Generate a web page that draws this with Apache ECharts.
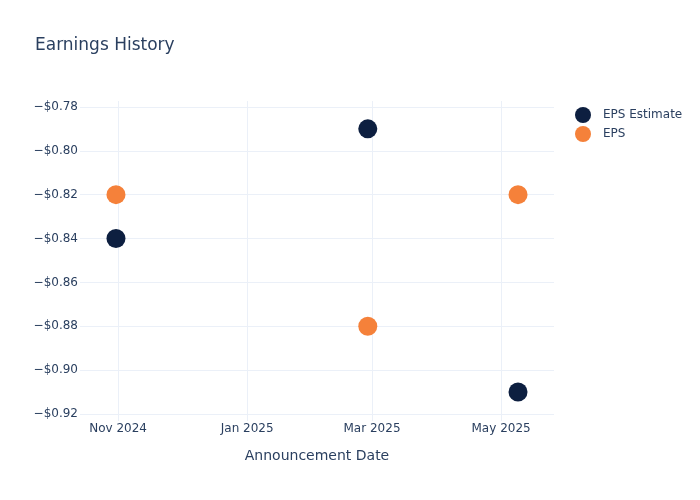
<!DOCTYPE html>
<html>
<head>
<meta charset="utf-8">
<style>
  html, body { margin: 0; padding: 0; background: #fff; }
  #chart { width: 700px; height: 500px; }
</style>
</head>
<body>
<div id="chart"></div>
<script src="https://cdn.jsdelivr.net/npm/echarts@6/dist/echarts.min.js"></script>
<script>
// data
var dates = ['2024-10-31', '2025-02-27', '2025-05-09'];
var epsEstimate = [-0.84, -0.79, -0.91];
var eps = [-0.82, -0.88, -0.82];
var xTicks = ['2024-11-01', '2025-01-01', '2025-03-01', '2025-05-01'];
var yTicks = [-0.92, -0.90, -0.88, -0.86, -0.84, -0.82, -0.80, -0.78];
var monthNames = ['Jan', 'Feb', 'Mar', 'Apr', 'May', 'Jun', 'Jul', 'Aug', 'Sep', 'Oct', 'Nov', 'Dec'];

function toTime(s) {
  var p = s.split('-');
  return new Date(+p[0], +p[1] - 1, +p[2]).getTime();
}

var textColor = '#2a3f5f';
var gridColor = '#ebf0f8';
var font = 'DejaVu Sans, sans-serif';

var chart = echarts.init(document.getElementById('chart'));

var xTickVals = xTicks.map(toTime);

var option = {
  animation: false,
  backgroundColor: '#fff',
  title: {
    text: 'Earnings History',
    left: 35,
    top: 37,
    padding: 0,
    textStyle: { color: textColor, fontSize: 17, fontWeight: 'normal', fontFamily: font }
  },
  legend: {
    orient: 'vertical',
    left: 575,
    top: 107,
    padding: 0,
    icon: 'circle',
    itemWidth: 16,
    itemHeight: 16,
    itemGap: 3,
    textStyle: { color: textColor, fontSize: 12, fontFamily: font, padding: [0, 0, 0, 7] },
    data: ['EPS Estimate', 'EPS']
  },
  grid: { left: 80, right: 146, top: 101, bottom: 79 },
  xAxis: {
    type: 'value',
    min: toTime('2024-10-14'),
    max: toTime('2025-05-26'),
    name: 'Announcement Date',
    nameLocation: 'middle',
    nameGap: 28,
    nameTextStyle: { color: textColor, fontSize: 14, fontFamily: font },
    axisLine: { show: false },
    axisTick: { show: false, customValues: xTickVals },
    splitLine: { show: true, lineStyle: { color: gridColor, width: 1 } },
    axisLabel: {
      customValues: xTickVals,
      color: textColor,
      fontSize: 12,
      margin: 2,
      fontFamily: font,
      formatter: function (v) {
        var d = new Date(v);
        return monthNames[d.getMonth()] + ' ' + d.getFullYear();
      }
    }
  },
  yAxis: {
    type: 'value',
    min: -0.9232,
    max: -0.7773,
    axisLine: { show: false },
    axisTick: { show: false, customValues: yTicks },
    splitLine: { show: true, lineStyle: { color: gridColor, width: 1 } },
    axisLabel: {
      customValues: yTicks,
      color: textColor,
      fontSize: 12,
      margin: 2,
      fontFamily: font,
      formatter: function (v) {
        return '\u2212$' + Math.abs(v).toFixed(2);
      }
    }
  },
  series: [
    {
      name: 'EPS Estimate',
      type: 'scatter',
      symbolSize: 19,
      itemStyle: { color: '#0d1f40', opacity: 1 },
      data: dates.map(function (d, i) { return [toTime(d), epsEstimate[i]]; })
    },
    {
      name: 'EPS',
      type: 'scatter',
      symbolSize: 19,
      itemStyle: { color: '#f5813a', opacity: 1 },
      data: dates.map(function (d, i) { return [toTime(d), eps[i]]; })
    }
  ]
};

chart.setOption(option);
</script>
</body>
</html>
